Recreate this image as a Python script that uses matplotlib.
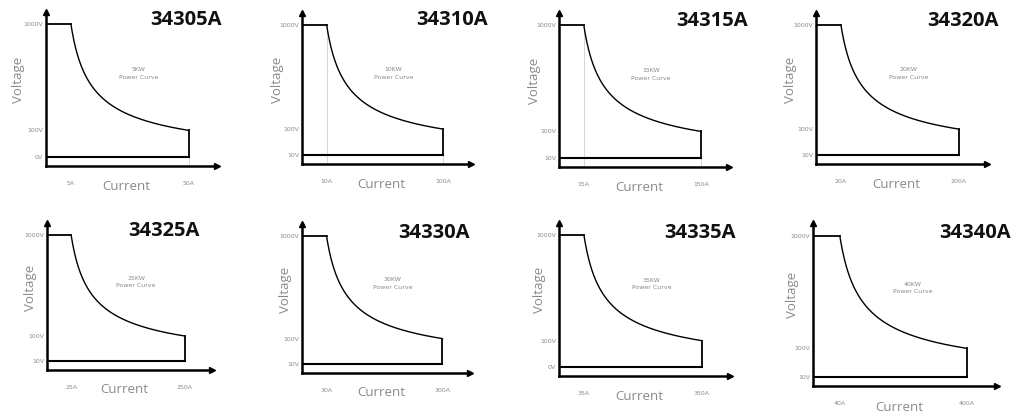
import matplotlib
matplotlib.use("Agg")
import matplotlib.pyplot as plt
import numpy as np

W, H = 1013, 417

models = ["34305A", "34310A", "34315A", "34320A", "34325A", "34330A", "34335A", "34340A"]
power_kw = [5, 10, 15, 20, 25, 30, 35, 40]
i_min = [5, 10, 15, 20, 25, 30, 35, 40]          # A at full voltage
i_max = [50, 100, 150, 200, 250, 300, 350, 400]  # A at low voltage
v_max = [1000] * 8
v_knee = [100] * 8
v_low = [10] * 8
v_low_labels = ["0V", "10V", "10V", "10V", "10V", "10V", "0V", "10V"]

# panel boxes in pixels: y-axis x, arrow-end x, arrow top y, x-axis y
boxes = [
    (46, 217, 12, 166), (302, 471, 13, 164), (559, 729, 13, 167), (816, 987, 13, 164),
    (47, 212, 223, 370), (302, 470, 224, 373), (559, 730, 223, 376), (813, 997, 223, 386),
]
title_pos = [(222, 20), (488, 20), (748, 21), (999, 21),
             (200, 231), (470, 233), (736, 233), (1011, 233)]
ylab_x = [25, 284, 541, 797, 37, 292, 546, 799]
guide_min = [False, True, True, False, False, False, False, False]
guide_max = [True, True, True, False, False, False, False, False]

PY = 0.6   # schematic (non-linear) voltage axis

fig = plt.figure(figsize=(W / 100, H / 100), dpi=100)
fig.patch.set_facecolor("white")
gray = "#8a8a8a"

for k in range(8):
    x0, x1, yt, yb = boxes[k]
    ax = fig.add_axes([x0 / W, 1 - yb / H, (x1 - x0) / W, (yb - yt) / H])
    ax.set_yscale("function", functions=(lambda y: np.abs(y) ** PY, lambda y: np.abs(y) ** (1 / PY)))
    a, b = i_min[k], i_max[k]
    span = (b - a) / 0.69
    lo = a - 0.146 * span
    ax.set_xlim(lo, lo + span)
    ymax = (v_low[k] ** PY / 0.058) ** (1 / PY)
    ax.set_ylim(0, ymax)

    P = power_kw[k] * 1000
    cur = np.linspace(P / v_max[k], P / v_knee[k], 200)
    # guide lines
    if guide_min[k]:
        ax.plot([a, a], [0, v_max[k]], color="#cfcfcf", lw=0.6, zorder=1)
    if guide_max[k]:
        ax.plot([b, b], [0, v_low[k]], color="#cfcfcf", lw=0.6, zorder=1)
    # power curve outline
    ax.plot([lo, a], [v_max[k], v_max[k]], color="k", lw=1.3)
    ax.plot(cur, P / cur, color="k", lw=1.0)
    ax.plot([b, b], [v_knee[k], v_low[k]], color="k", lw=1.3)
    ax.plot([lo, b], [v_low[k], v_low[k]], color="k", lw=1.5)

    for s in ["top", "right"]:
        ax.spines[s].set_visible(False)
    for s in ["left", "bottom"]:
        ax.spines[s].set_linewidth(1.8)
    ax.plot(1, 0, ">k", ms=5, transform=ax.transAxes, clip_on=False)
    ax.plot(0, 1, "^k", ms=5, transform=ax.transAxes, clip_on=False)

    ax.set_xticks([a, b])
    ax.set_xticklabels([f"{a}A", f"{b}A"])
    ax.set_yticks([v_low[k], v_knee[k], v_max[k]])
    ax.set_yticklabels([v_low_labels[k], f"{v_knee[k]}V", f"{v_max[k]}V"])
    ax.tick_params(length=0, labelsize=4.5, labelcolor=gray)
    ax.tick_params(axis="x", pad=11)
    ax.tick_params(axis="y", pad=2)

    ax.set_xlabel("Current", fontsize=9.5, color=gray, family="Open Sans")
    ax.xaxis.set_label_coords(0.47, -0.09)
    ax.set_ylabel("Voltage", fontsize=9.5, color=gray, family="Open Sans")
    ax.yaxis.set_label_coords((ylab_x[k] - x0) / (x1 - x0), 0.56)

    ax.text(0.54, 0.6, f"{power_kw[k]}KW\nPower Curve", transform=ax.transAxes,
            ha="center", va="center", fontsize=4.5, color=gray, linespacing=1.6)

    tx, ty = title_pos[k]
    fig.text(tx / W, 1 - ty / H, models[k], ha="right", va="center",
             fontsize=14.5, fontweight="bold", family="Open Sans", color="#111111")

fig.savefig("out.png", dpi=100, facecolor="white")
